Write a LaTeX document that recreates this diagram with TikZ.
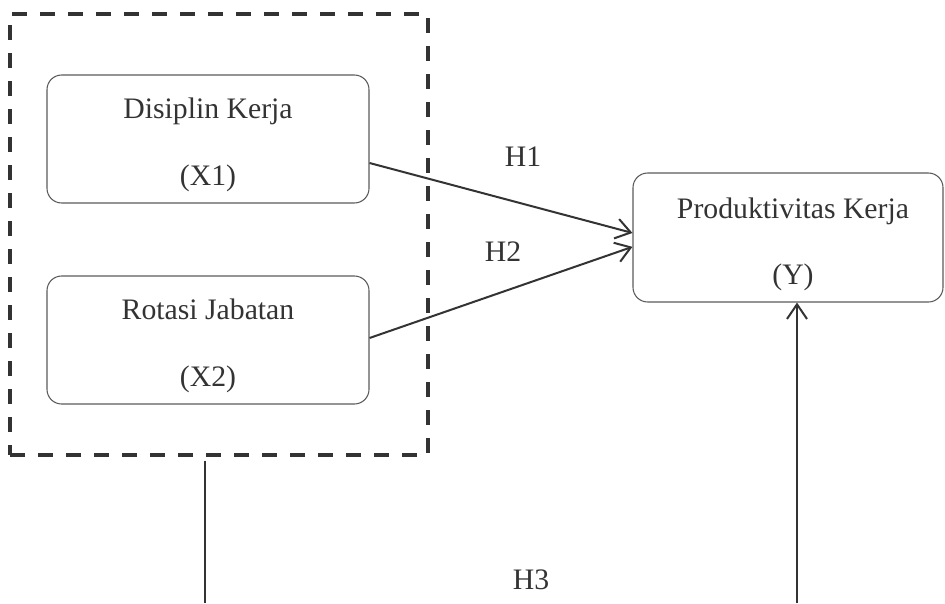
\documentclass[tikz,border=0pt]{standalone}
\usepackage{fontspec}
\setmainfont{Liberation Serif}
\usetikzlibrary{arrows.meta,calc}
\definecolor{ink}{HTML}{333333}
\definecolor{frame}{HTML}{5A5A5A}
\tikzset{
  box/.style={draw=frame, line width=0.8pt, rounded corners=11pt, minimum width=241.5pt, minimum height=96pt, inner sep=0pt},
  txt/.style={text=ink, font=\fontsize{22.3}{26}\selectfont, inner sep=0pt, anchor=base},
  grpbox/.style={draw=ink, line width=2.3pt, dash pattern=on 11.25pt off 9.75pt, minimum width=313.5pt, minimum height=330.75pt, inner sep=0pt},
  conn/.style={draw=ink, line width=1.5pt},
  arr/.style={conn, -{Straight Barb[length=11pt,width=15pt,line width=1.5pt]}}
}
\begin{document}
\begin{tikzpicture}[x=0.75pt,y=-0.75pt]
\useasboundingbox (0,0) rectangle (945,603);
% group
\node[grpbox] (grp) at (219,234.5) {};
% boxes
\node[box] (x1) at (208,139) {};
\node[box] (x2) at (208,340) {};
\node[box, minimum width=232.5pt, minimum height=96.75pt] (y) at (788,237.5) {};
% texts
\node[txt] (x1a) at (208,118) {Disiplin Kerja};
\node[txt] (x1b) at (208,185) {(X1)};
\node[txt] (x2a) at (208,319) {Rotasi Jabatan};
\node[txt] (x2b) at (208,386) {(X2)};
\node[txt] (ya) at (793,218) {Produktivitas Kerja};
\node[txt] (yb) at (793,284) {(Y)};
\node[txt] (h1) at (523,166) {H1};
\node[txt] (h2) at (503,261) {H2};
\node[txt] (h3) at (531,589) {H3};
% connectors
\draw[arr] ([yshift=-18pt]x1.east) -- ([yshift=3.4pt]y.west);
\draw[arr] ([yshift=1.5pt]x2.east) -- ([yshift=-7pt]y.west);
\coordinate (b1) at (205,603);
\coordinate (b2) at (797,603);
\draw[conn] ([yshift=-3pt]grp.south -| b1) -- (b1);
\draw[arr] (b2) -- (y.south -| b2);
\end{tikzpicture}
\end{document}
